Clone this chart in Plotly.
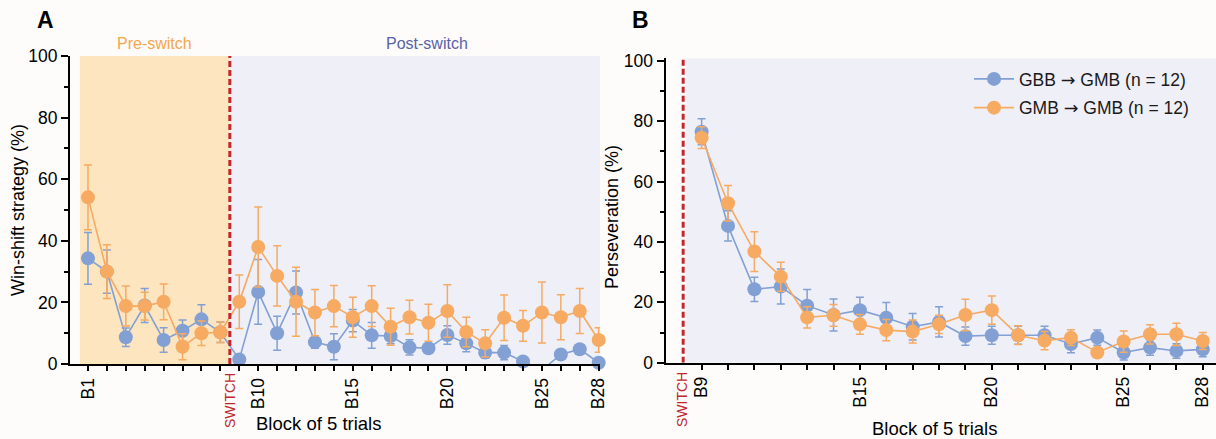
import plotly.graph_objects as go

# ---------------- data ----------------
blocks_A = list(range(1, 29))
labels_A = ["B1", "B10", "B15", "B20", "B25", "B28"]

gbb_ws_mean = [34.3, 30.0, 8.7, 19.0, 7.8, 10.8, 14.5, 10.3, 1.5, 23.4, 10.0, 23.2, 7.1, 5.6,
               14.1, 9.3, 9.1, 5.4, 5.1, 9.4, 6.7, 3.7, 3.7, 0.8, -2.0, 3.1, 4.8, 0.4]
gbb_ws_sem = [8.4, 7.0, 3.0, 5.5, 4.0, 3.5, 4.7, 3.3, None, 10.5, 5.5, 7.0, 2.0, 4.2,
              3.6, 4.2, 2.5, 2.5, 1.5, 3.0, 2.7, 1.8, 2.3, None, None, None, None, None]
gmb_ws_mean = [54.1, 30.0, 18.8, 18.8, 20.2, 5.6, 10.0, 10.3, 20.2, 38.0, 28.6, 20.2, 16.7, 18.8,
               15.2, 18.8, 12.1, 15.2, 13.4, 17.2, 10.4, 6.7, 15.0, 12.4, 16.7, 15.2, 17.2, 7.8]
gmb_ws_sem = [10.5, 8.7, 6.5, 4.5, 5.8, 4.2, 4.0, 3.3, 8.7, 13.0, 9.8, 11.2, 7.5, 6.7,
              6.5, 6.6, 6.0, 5.5, 6.0, 8.5, 4.8, 4.4, 7.4, 5.0, 9.9, 7.3, 7.3, 4.0]

blocks_B = list(range(9, 29))
labels_B = ["B9", "B15", "B20", "B25", "B28"]

gbb_pers_mean = [76.5, 45.3, 24.3, 25.2, 18.9, 15.8, 17.4, 14.9, 11.9, 13.5,
                 8.8, 9.1, 9.1, 9.1, 6.2, 8.3, 3.4, 5.0, 3.9, 4.4]
gbb_pers_sem = [4.3, 5.0, 4.0, 5.8, 5.3, 5.3, 4.3, 5.0, 4.4, 5.0,
                3.0, 3.0, 3.0, 3.0, 2.9, 2.5, 2.5, 2.5, 2.4, 2.4]
gmb_pers_mean = [74.5, 52.8, 36.8, 28.5, 15.0, 15.7, 12.7, 10.8, 10.3, 12.7,
                 15.8, 17.4, 9.1, 7.3, 8.3, 3.4, 7.0, 9.4, 9.4, 7.2]
gmb_pers_sem = [3.6, 5.9, 6.6, 4.8, 3.5, 3.6, 3.3, 3.5, 3.8, 3.0,
                5.2, 4.7, 3.1, 3.0, 2.6, None, 3.5, 3.2, 3.7, 2.8]

ARROW = "<span style='font-family:DejaVu Sans'>\u2192</span>"
series_names = [f"GBB {ARROW} GMB (n = 12)", f"GMB {ARROW} GMB (n = 12)"]
switch_A = 8.5
switch_B = 8.3

# ---------------- style ----------------
FONT = "Liberation Sans, Arial, sans-serif"
BLUE = "#82A0D3"
ORANGE = "#F6AA62"
RED = "#C1272D"
PRE_BG = "#FDE5BF"
POST_BG = "#EFEFF7"
PAPER = "#FDFCFA"
W, H = 1216, 439


def px(x):
    return x / W


def py(y):
    return 1 - y / H


fig = go.Figure()


def add_series(x, mean, sem, color, name, xa, ya, show, group):
    fig.add_trace(go.Scatter(
        x=x, y=mean, mode="lines+markers", name=name, showlegend=show,
        legendgroup=group,
        xaxis=xa, yaxis=ya, cliponaxis=False,
        line=dict(color=color, width=1.6),
        marker=dict(color=color, size=14,
                    opacity=[0 if v < 0 else 1 for v in mean]),
        error_y=dict(type="data", array=sem, visible=True, color=color,
                     thickness=1.5, width=4),
    ))


add_series(blocks_A, gbb_ws_mean, gbb_ws_sem, BLUE, series_names[0], "x", "y", False, "g1")
add_series(blocks_A, gmb_ws_mean, gmb_ws_sem, ORANGE, series_names[1], "x", "y", False, "g2")
add_series(blocks_B, gbb_pers_mean, gbb_pers_sem, BLUE, series_names[0], "x2", "y2", True, "g1")
add_series(blocks_B, gmb_pers_mean, gmb_pers_sem, ORANGE, series_names[1], "x2", "y2", True, "g2")

tick_font = dict(family=FONT, size=17.5, color="black")
axis_common = dict(showline=True, linecolor="black", linewidth=2, ticks="outside",
                   tickcolor="black", tickwidth=1.5, showgrid=False, zeroline=False,
                   tickfont=tick_font, automargin=False)

xA_range = [0.05, 28.07]
xB_range = [7.63, 28.5]

fig.update_layout(
    width=W, height=H,
    margin=dict(l=0, r=0, t=0, b=0, autoexpand=False),
    paper_bgcolor=PAPER, plot_bgcolor=PAPER,
    font=dict(family=FONT, color="black"),
    xaxis=dict(domain=[px(70), px(600)], range=xA_range, anchor="y",
               tickvals=blocks_A,
               ticktext=[f"B{b}" if f"B{b}" in labels_A else "" for b in blocks_A],
               tickangle=-90, ticklen=5, **axis_common),
    yaxis=dict(domain=[py(364), py(56)], range=[0, 100], anchor="x",
               tick0=0, dtick=20, ticklen=7,
               minor=dict(dtick=10, ticks="outside", ticklen=4, tickcolor="black", tickwidth=1.5),
               **axis_common),
    xaxis2=dict(domain=[px(665.5), 1.0], range=xB_range, anchor="y2",
                tickvals=blocks_B,
                ticktext=[f"B{b}" if f"B{b}" in labels_B else "" for b in blocks_B],
                tickangle=-90, ticklen=5, **axis_common),
    yaxis2=dict(domain=[py(362.7), py(58.3)], range=[0, 100.8], anchor="x2",
                tickvals=[0, 20, 40, 60, 80, 100], ticklen=7,
                minor=dict(tickvals=[10, 30, 50, 70, 90], ticks="outside", ticklen=4,
                           tickcolor="black", tickwidth=1.5),
                **axis_common),
    legend=dict(x=px(969), y=py(61), xanchor="left", yanchor="top",
                bgcolor="rgba(0,0,0,0)", font=dict(family=FONT, size=17.5, color="#1a1a1a"),
                tracegroupgap=3, itemwidth=40),
)

shapes = [
    dict(type="rect", xref="x", yref="y", x0=0.58, x1=switch_A, y0=0, y1=100,
         fillcolor=PRE_BG, line=dict(width=0), layer="below"),
    dict(type="rect", xref="x", yref="y", x0=switch_A, x1=xA_range[1], y0=0, y1=100,
         fillcolor=POST_BG, line=dict(width=0), layer="below"),
    dict(type="rect", xref="x2", yref="y2", x0=switch_B + 0.1, x1=xB_range[1], y0=0, y1=100.8,
         fillcolor=POST_BG, line=dict(width=0), layer="below"),
    dict(type="line", xref="x", yref="y", x0=switch_A, x1=switch_A, y0=0, y1=100,
         line=dict(color=RED, width=3, dash="6px,3px"), layer="above"),
    dict(type="line", xref="x2", yref="y2", x0=switch_B, x1=switch_B, y0=0, y1=100.8,
         line=dict(color=RED, width=3, dash="6px,3px"), layer="above"),
]
fig.update_layout(shapes=shapes)

ann = []


def note(text, x, y, size, color="black", angle=0, bold=False):
    ann.append(dict(text=f"<b>{text}</b>" if bold else text, x=px(x), y=py(y),
                    xref="paper", yref="paper", showarrow=False, textangle=angle,
                    xanchor="center", yanchor="middle",
                    font=dict(family=FONT, size=size, color=color)))


note("A", 45, 20, 23, bold=True)
note("B", 640, 20, 23, bold=True)
note("Pre-switch", 155, 43, 16, color="#F5A54F")
note("Post-switch", 427, 43, 16, color="#5A62A6")
note("Win-shift strategy (%)", 18, 210, 18, angle=-90)
note("Perseveration (%)", 612, 217, 18, angle=-90)
note("Block of 5 trials", 318, 423, 18.5)
note("Block of 5 trials", 934, 428, 18.5)
note("SWITCH", 230, 401, 14, color=RED, angle=-90)
note("SWITCH", 682, 400, 14, color=RED, angle=-90)
fig.update_layout(annotations=ann)

fig.write_html("out.html", config={"displayModeBar": False},
               post_script="document.body.style.margin='0';")
